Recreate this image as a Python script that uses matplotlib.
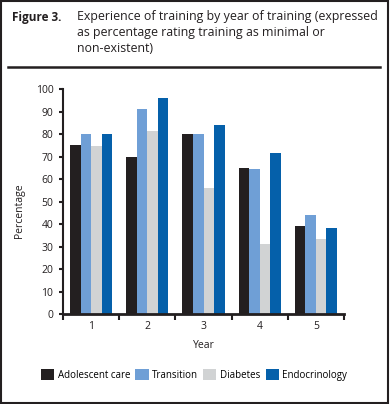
import numpy as np
import matplotlib
matplotlib.use('Agg')
import matplotlib.pyplot as plt
from matplotlib.patches import Rectangle, Patch
from matplotlib.lines import Line2D

plt.rcParams['font.family'] = ['Open Sans', 'DejaVu Sans']

# data
years = ['1', '2', '3', '4', '5']
series = ['Adolescent care', 'Transition', 'Diabetes', 'Endocrinology']
adolescent_care = [75, 70, 80, 65, 39]
transition = [80, 91, 80, 64.5, 44]
diabetes = [74.5, 81.5, 56, 31, 33.5]
endocrinology = [80, 96, 84, 71.5, 38.5]
colors = ['#231f20', '#6f9fd6', '#d1d3d4', '#0560aa']

fig = plt.figure(figsize=(3.9, 4.04), dpi=100)
ax = fig.add_axes([63/390, 1-314.3/404, 281/390, 225.3/404])

x = np.arange(1, len(years) + 1)
w = 0.1875
values = [adolescent_care, transition, diabetes, endocrinology]
for i, (vals, c) in enumerate(zip(values, colors)):
    ax.bar(x + (i - 1.5) * w, vals, width=w, color=c, linewidth=0)

ax.set_xlim(0.5, 5.5)
ax.set_ylim(0, 100)
ax.set_yticks(range(0, 101, 10))
ax.set_xticks(x)
ax.set_xticklabels(years)
ax.set_xticks(np.arange(0.5, 5.6, 1), minor=True)
ax.tick_params(axis='x', which='major', length=0, pad=5, labelsize=7.5, colors='#231f20')
ax.tick_params(axis='x', which='minor', length=4, width=1.5, color='#231f20')
ax.tick_params(axis='y', length=3, width=1.5, pad=4, labelsize=7.5, colors='#231f20')
for s in ['top', 'right']:
    ax.spines[s].set_visible(False)
ax.spines['left'].set_linewidth(1.5)
ax.spines['bottom'].set_linewidth(2)
ax.spines['left'].set_color('#231f20')
ax.spines['bottom'].set_color('#231f20')

fig.text(20/390, 1-211/404, 'Percentage', rotation=90, ha='center', va='center',
         fontsize=7.5, color='#231f20')
fig.text(204/390, 1-346/404, 'Year', ha='center', va='center', fontsize=7.5, color='#231f20')

handles = [Patch(facecolor=c, edgecolor='none') for c in colors]
fig.legend(handles, series, loc='center', bbox_to_anchor=(194/390, 1-375/404),
           ncol=4, frameon=False, fontsize=7, handlelength=1.35, handleheight=1.35,
           handletextpad=0.35, columnspacing=0.55, borderpad=0)

# header
fig.text(12/390, 1-18/404, 'Figure 3.', fontsize=8.5, fontweight='bold', va='center',
         color='#231f20')
head = ('Experience of training by year of training (expressed\n'
        'as percentage rating training as minimal or\n'
        'non-existent)')
fig.text(77/390, 1-10/404, head, fontsize=8.9, va='top', linespacing=1.3, color='#231f20')
fig.add_artist(Line2D([8/390, 380/390], [1-66.5/404, 1-66.5/404], color='#231f20', lw=1.8))
fig.add_artist(Rectangle((0.002, 0.003), 0.994, 0.994, fill=False, edgecolor='#231f20', lw=1.5,
                         transform=fig.transFigure))

fig.savefig('out.png', dpi=100)
